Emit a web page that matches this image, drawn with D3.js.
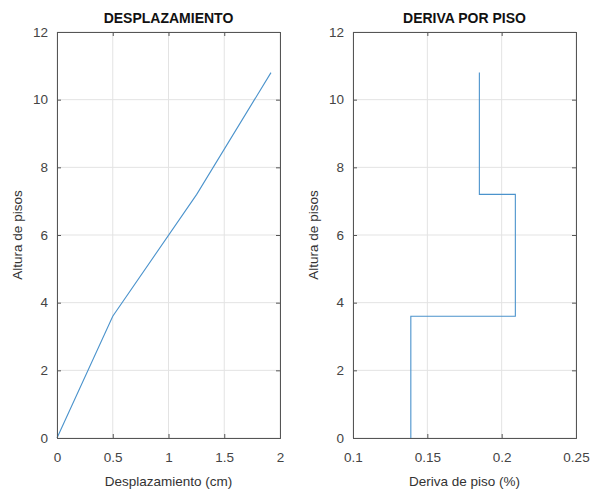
<!DOCTYPE html>
<html>
<head>
<meta charset="utf-8">
<script src="https://cdn.jsdelivr.net/npm/d3@7"></script>
<style>
  body { margin: 0; background: #fff; }
  text { font-family: "Liberation Sans", Arial, sans-serif; }
</style>
</head>
<body>
<div class="grafico"></div>
<script>
// datos
var alturas = [0, 3.6, 7.2, 10.8];              // altura de pisos (m)
var desplazamiento = [0, 0.5, 1.253, 1.919];    // cm
var deriva = [0.1389, 0.2092, 0.185];           // % por piso
var ticksY = [0, 2, 4, 6, 8, 10, 12];
var ticksDesp = [0, 0.5, 1, 1.5, 2];
var ticksDeriva = [0.1, 0.15, 0.2, 0.25];

var width = 594, height = 491;
var yTop = 32, yBottom = 438;

var svg = d3.select(".grafico").append("svg")
    .attr("width", width)
    .attr("height", height);

function panel(x0, x1, dominio, ticksX, puntos, titulo, etiquetaX) {
    var x = d3.scaleLinear().domain(dominio).range([x0, x1]);
    var y = d3.scaleLinear().domain([0, 12]).range([yBottom, yTop]);
    var g = svg.append("g");

    // rejilla
    g.selectAll(".gx").data(ticksX).enter().append("line")
        .attr("x1", d => x(d)).attr("x2", d => x(d))
        .attr("y1", yTop).attr("y2", yBottom)
        .attr("stroke", "#e3e3e3").attr("stroke-width", 1);
    g.selectAll(".gy").data(ticksY).enter().append("line")
        .attr("x1", x0).attr("x2", x1)
        .attr("y1", d => y(d)).attr("y2", d => y(d))
        .attr("stroke", "#e3e3e3").attr("stroke-width", 1);

    // curva
    g.append("path")
        .datum(puntos)
        .attr("d", d3.line().x(d => x(d[0])).y(d => y(d[1])))
        .attr("fill", "none")
        .attr("stroke", "#4b93cc")
        .attr("stroke-width", 1.1);

    // ejes
    var ax = g.append("g").attr("transform", "translate(0," + yBottom + ")")
        .call(d3.axisBottom(x).tickValues(ticksX).tickSize(-4).tickPadding(14).tickFormat(d => String(d)));
    var axT = g.append("g").attr("transform", "translate(0," + yTop + ")")
        .call(d3.axisTop(x).tickValues(ticksX).tickSize(-4).tickFormat(""));
    var ay = g.append("g").attr("transform", "translate(" + x0 + ",0)")
        .call(d3.axisLeft(y).tickValues(ticksY).tickSize(-4).tickPadding(9));
    var ayR = g.append("g").attr("transform", "translate(" + x1 + ",0)")
        .call(d3.axisRight(y).tickValues(ticksY).tickSize(-4).tickFormat(""));
    [ax, axT, ay, ayR].forEach(function (a) {
        a.select(".domain").attr("stroke", "#555").attr("stroke-width", 1);
        a.selectAll(".tick line").attr("stroke", "#555");
        a.selectAll("text").attr("fill", "#444").style("font-size", "13.5px");
    });

    g.append("text")
        .attr("x", (x0 + x1) / 2).attr("y", 23)
        .attr("text-anchor", "middle")
        .style("font-size", "14px").style("font-weight", "bold")
        .attr("fill", "#111")
        .text(titulo);
    g.append("text")
        .attr("x", (x0 + x1) / 2).attr("y", 486)
        .attr("text-anchor", "middle")
        .style("font-size", "13.5px").attr("fill", "#333")
        .text(etiquetaX);
    g.append("text")
        .attr("transform", "translate(" + (x0 - 35) + "," + ((yTop + yBottom) / 2) + ") rotate(-90)")
        .attr("text-anchor", "middle")
        .style("font-size", "13.5px").attr("fill", "#333")
        .text("Altura de pisos");
}

var ptsDesp = alturas.map((h, i) => [desplazamiento[i], h]);
var ptsDeriva = [];
deriva.forEach(function (d, i) {
    ptsDeriva.push([d, alturas[i]]);
    ptsDeriva.push([d, alturas[i + 1]]);
});

panel(57, 280, [0, 2], ticksDesp, ptsDesp, "DESPLAZAMIENTO", "Desplazamiento (cm)");
panel(353, 576, [0.1, 0.25], ticksDeriva, ptsDeriva, "DERIVA POR PISO", "Deriva de piso (%)");
</script>
</body>
</html>
